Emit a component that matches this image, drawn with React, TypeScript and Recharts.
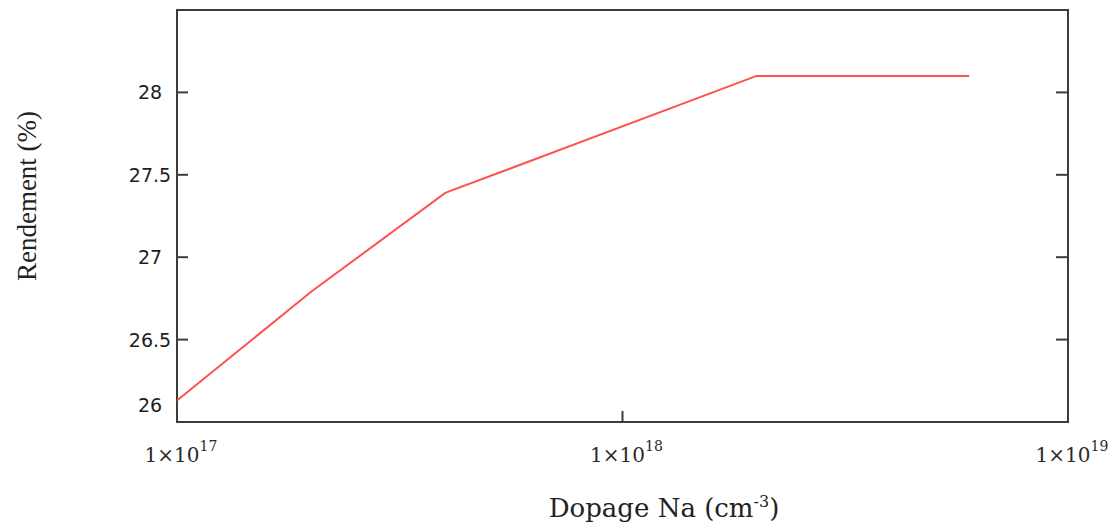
import React from "react";
import { LineChart, Line, XAxis, YAxis, ReferenceArea } from "recharts";

// Rendement vs dopage Na (log scale)
const dopage = [1e17, 2e17, 4e17, 2e18, 6e18];
const rendement = [26.13, 26.79, 27.39, 28.1, 28.1];

const xTicks = [1e17, 1e18, 1e19];
const yTicks = [26, 26.5, 27, 27.5, 28];
const X_MIN = 1e17;
const X_MAX = 1e19;
const Y_MIN = 26;
const Y_MAX = 28.5;

const W = 1118;
const H = 527;
const PLOT_LEFT = 177;
const PLOT_RIGHT = 1068;
const FRAME = "#3c3c3c";

const rows = dopage.map((d, i) => ({ na: d, eta: rendement[i] }));

const XTick = (props: any) => {
  const { x, y, payload } = props;
  const v = payload.value;
  const exp = Math.round(Math.log10(v));
  return (
    <g>
      {v > X_MIN && v < X_MAX && (
        <line x1={x} x2={x} y1={y} y2={y - 11} stroke={FRAME} strokeWidth={2} />
      )}
      <text x={x + 4} y={y + 40} textAnchor="middle" fontFamily="DejaVu Serif" fontSize={20} fill="#2a2a2a">
        1×10<tspan dy={-11} fontSize={14}>{exp}</tspan>
      </text>
    </g>
  );
};

const YTick = (props: any) => {
  const { y, payload } = props;
  const v = payload.value;
  const labelY = v === Y_MIN ? y - 17 : y;
  return (
    <g>
      {v > Y_MIN && (
        <>
          <line x1={PLOT_LEFT} x2={PLOT_LEFT + 11} y1={y} y2={y} stroke={FRAME} strokeWidth={2} />
          <line x1={PLOT_RIGHT - 12} x2={PLOT_RIGHT} y1={y} y2={y} stroke={FRAME} strokeWidth={2} />
        </>
      )}
      <text x={150} y={labelY + 7} textAnchor="middle" fontFamily="DejaVu Sans" fontSize={19} fill="#1e1e1e">
        {String(v)}
      </text>
    </g>
  );
};

export default function App() {
  return (
    <div style={{ position: "absolute", left: 0, top: 0, width: W, height: H, background: "#fff" }}>
      <LineChart width={W} height={H} data={rows} margin={{ top: 10, right: W - PLOT_RIGHT, left: 17, bottom: 5 }}>
        <XAxis
          dataKey="na"
          type="number"
          scale="log"
          domain={[X_MIN, X_MAX]}
          ticks={xTicks}
          allowDataOverflow
          axisLine={false}
          tickLine={false}
          tickSize={0}
          tickMargin={0}
          height={100}
          tick={<XTick />}
          interval={0}
        />
        <YAxis
          type="number"
          domain={[Y_MIN, Y_MAX]}
          ticks={yTicks}
          allowDataOverflow
          axisLine={false}
          tickLine={false}
          tickSize={0}
          tickMargin={0}
          width={160}
          tick={<YTick />}
          interval={0}
        />
        <ReferenceArea x1={X_MIN} x2={X_MAX} y1={Y_MIN} y2={Y_MAX} fill="none" stroke={FRAME} strokeWidth={2} ifOverflow="visible" />
        <Line
          dataKey="eta"
          type="linear"
          stroke="#ff5050"
          strokeWidth={2}
          dot={false}
          isAnimationActive={false}
        />
      </LineChart>
      <svg width={W} height={H} style={{ position: "absolute", left: 0, top: 0, pointerEvents: "none" }}>
        <text x={664} y={517} textAnchor="middle" fontFamily="DejaVu Serif" fontSize={26} fill="#222">
          Dopage Na (cm<tspan dy={-10} fontSize={16}>-3</tspan><tspan dy={10}>)</tspan>
        </text>
        <text
          x={0}
          y={0}
          transform="translate(36,196) rotate(-90)"
          textAnchor="middle"
          fontFamily="Liberation Serif"
          fontSize={27}
          fill="#222"
        >
          Rendement (%)
        </text>
      </svg>
    </div>
  );
}
